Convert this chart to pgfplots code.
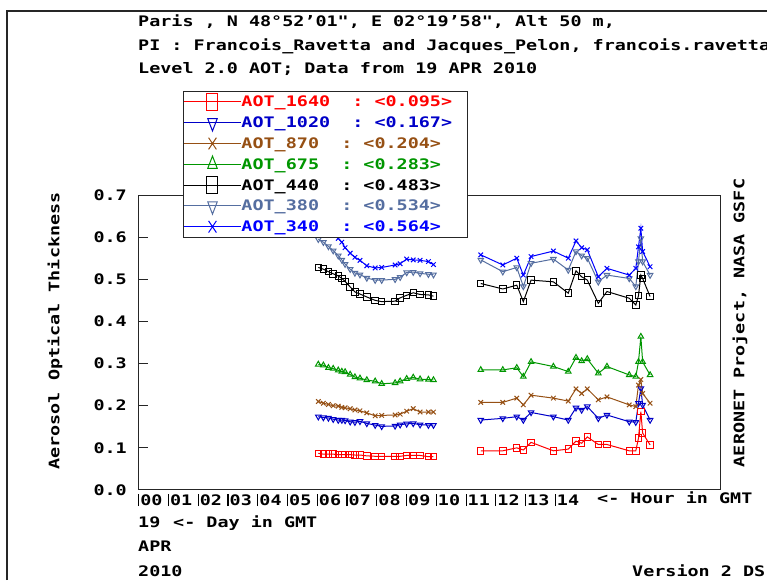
\documentclass[border=0pt]{standalone}
\usepackage{fontspec}
\usepackage{pgfplots}
\usepackage{pgfplotstable}
\pgfplotsset{compat=1.18}
\newfontfamily\pixfont{DejaVu Sans Mono Bold}[FakeStretch=1.27]
\newcommand\pix{\pixfont\fontsize{14.5}{17}\selectfont}
\newcommand\xl[1]{\rule[-1pt]{1.2pt}{12pt}\hspace{1pt}#1}
\definecolor{c1640}{RGB}{255,0,0}
\definecolor{c1020}{RGB}{0,0,200}
\definecolor{c870}{RGB}{150,80,20}
\definecolor{c675}{RGB}{0,150,0}
\definecolor{c440}{RGB}{0,0,0}
\definecolor{c380}{RGB}{85,110,160}
\definecolor{c340}{RGB}{0,0,255}
\pgfplotstableread{
h a1640 a1020 a870 a675 a440 a380 a340
6.06 0.087 0.174 0.210 0.298 0.528 0.595 0.628
6.23 0.085 0.172 0.206 0.296 0.524 0.588 0.620
6.40 0.085 0.171 0.203 0.290 0.518 0.578 0.612
6.56 0.085 0.168 0.200 0.288 0.513 0.568 0.605
6.73 0.084 0.166 0.199 0.284 0.508 0.556 0.597
6.85 0.084 0.166 0.196 0.281 0.502 0.546 0.588
6.96 0.084 0.165 0.195 0.280 0.495 0.536 0.575
7.13 0.084 0.162 0.193 0.274 0.482 0.524 0.562
7.29 0.083 0.161 0.190 0.268 0.470 0.515 0.552
7.46 0.083 0.163 0.188 0.265 0.465 0.511 0.545
7.69 0.081 0.158 0.183 0.261 0.458 0.503 0.532
7.97 0.080 0.154 0.176 0.258 0.450 0.498 0.527
8.19 0.080 0.151 0.177 0.252 0.447 0.498 0.528
8.64 0.080 0.152 0.178 0.254 0.448 0.500 0.534
8.81 0.080 0.155 0.180 0.258 0.456 0.505 0.537
9.03 0.082 0.157 0.187 0.264 0.462 0.516 0.548
9.25 0.082 0.158 0.193 0.267 0.468 0.517 0.546
9.48 0.082 0.155 0.185 0.263 0.464 0.514 0.545
9.76 0.079 0.154 0.185 0.262 0.463 0.512 0.542
9.93 0.079 0.154 0.185 0.261 0.460 0.511 0.535
10.70 nan nan nan nan nan nan nan
11.52 0.093 0.166 0.208 0.285 0.490 0.546 0.558
12.26 0.093 0.170 0.208 0.285 0.477 0.518 0.534
12.73 0.100 0.174 0.218 0.290 0.486 0.528 0.550
12.95 0.095 0.166 0.202 0.269 0.447 0.483 0.510
13.21 0.113 0.184 0.225 0.304 0.498 0.538 0.554
13.96 0.093 0.174 0.218 0.293 0.494 0.548 0.567
14.46 0.097 0.166 0.211 0.281 0.467 0.522 0.550
14.72 0.116 0.195 0.240 0.314 0.520 0.566 0.591
14.91 0.111 0.190 0.229 0.306 0.506 0.556 0.575
15.10 0.126 0.198 0.240 0.311 0.498 0.550 0.570
15.47 0.108 0.170 0.214 0.277 0.443 0.494 0.506
15.76 0.108 0.178 0.221 0.293 0.471 0.510 0.526
16.51 0.093 0.162 0.202 0.273 0.455 0.502 0.510
16.73 0.093 0.161 0.198 0.269 0.439 0.483 0.526
16.82 0.123 0.206 0.249 0.304 0.461 0.542 0.577
16.90 0.186 0.241 0.262 0.364 0.510 0.597 0.621
16.96 0.135 0.202 0.229 0.304 0.502 0.542 0.566
17.21 0.107 0.166 0.206 0.273 0.459 0.510 0.530
}\aot
\begin{document}
\begin{tikzpicture}
\path[use as bounding box] (0pt,0pt) rectangle (767pt,580pt);
\draw[line width=2pt, black!85] (7pt,0pt) -- (7pt,569pt) -- (767pt,569pt);
\begin{axis}[
  at={(138pt,90pt)}, anchor=south west,
  width=582pt, height=295pt, scale only axis,
  xmin=0, xmax=19.56, ymin=0, ymax=0.7,
  unbounded coords=jump,
  axis line style={line width=1pt, black!85},
  xtick={0,1,2,3,4,5,6,7,8,9,10,11,12,13,14},
  xticklabels={\xl{00},\xl{01},\xl{02},\xl{03},\xl{04},\xl{05},\xl{06},\xl{07},\xl{08},\xl{09},\xl{10},\xl{11},\xl{12},\xl{13},\xl{14}},
  ytick={0,0.1,0.2,0.3,0.4,0.5,0.6,0.7},
  yticklabels={0.0,0.1,0.2,0.3,0.4,0.5,0.6,0.7},
  xtick pos=left, ytick pos=left,
  tick align=inside, major tick length=10pt,
  x tick style={draw=none},
  y tick style={line width=1pt, black!85},
  tick label style={font=\pix},
  xticklabel style={anchor=north west, inner sep=0pt, yshift=-4pt},
  yticklabel style={anchor=east, inner sep=0pt, xshift=-11pt},
  legend cell align=left,
  legend style={at={(0.0773,1.3525)}, anchor=north west,
    draw=black!85, line width=1pt, fill=white,
    inner sep=0pt, row sep=0pt, column sep=0pt,
    nodes={inner xsep=0pt, inner ysep=4.4pt, text height=11pt, text depth=1pt, font=\pix},
    cells={anchor=west}},
  legend image code/.code={
    \draw[#1] (0pt,0pt) -- (57pt,0pt);
    \draw[#1, mark size=5.5pt, every mark/.append style={yscale=1.5}] plot coordinates {(28.5pt,0pt)};
  },
  every axis plot/.append style={line width=1pt, mark size=3.2pt},
]
\addplot[c1640, mark=square] table[x=h, y=a1640] {\aot};
\addlegendentry{\makebox[226pt][l]{\textcolor{c1640}{AOT\_1640~~:~<0.095>}}}
\addplot[c1020, mark=triangle, mark options={rotate=180}] table[x=h, y=a1020] {\aot};
\addlegendentry{\makebox[226pt][l]{\textcolor{c1020}{AOT\_1020~~:~<0.167>}}}
\addplot[c870, mark=x] table[x=h, y=a870] {\aot};
\addlegendentry{\makebox[226pt][l]{\textcolor{c870}{AOT\_870~~:~<0.204>}}}
\addplot[c675, mark=triangle] table[x=h, y=a675] {\aot};
\addlegendentry{\makebox[226pt][l]{\textcolor{c675}{AOT\_675~~:~<0.283>}}}
\addplot[c440, mark=square] table[x=h, y=a440] {\aot};
\addlegendentry{\makebox[226pt][l]{\textcolor{c440}{AOT\_440~~:~<0.483>}}}
\addplot[c380, mark=triangle, mark options={rotate=180}] table[x=h, y=a380] {\aot};
\addlegendentry{\makebox[226pt][l]{\textcolor{c380}{AOT\_380~~:~<0.534>}}}
\addplot[c340, mark=x] table[x=h, y=a340] {\aot};
\addlegendentry{\makebox[226pt][l]{\textcolor{c340}{AOT\_340~~:~<0.564>}}}
\end{axis}
\node[anchor=base west, inner sep=0pt, font=\pix] at (138pt,553pt) {Paris , N 48°52’01", E 02°19’58", Alt 50 m,};
\node[anchor=base west, inner sep=0pt, font=\pix] at (138pt,529pt) {PI : Francois\_Ravetta and Jacques\_Pelon, francois.ravetta};
\node[anchor=base west, inner sep=0pt, font=\pix] at (138pt,506pt) {Level 2.0 AOT; Data from 19 APR 2010};
\node[anchor=base west, inner sep=0pt, font=\pix] at (597pt,76pt) {<- Hour in GMT};
\node[anchor=base west, inner sep=0pt, font=\pix] at (138pt,52pt) {19};
\node[anchor=base west, inner sep=0pt, font=\pix] at (173pt,52pt) {<- Day in GMT};
\node[anchor=base west, inner sep=0pt, font=\pix] at (138pt,28pt) {APR};
\node[anchor=base west, inner sep=0pt, font=\pix] at (138pt,4pt) {2010};
\node[anchor=base west, inner sep=0pt, font=\pix] at (632pt,4pt) {Version 2 DS};
\node[rotate=90, inner sep=0pt, font=\pix] at (55pt,249pt) {Aerosol Optical Thickness};
\node[rotate=90, inner sep=0pt, font=\pix] at (740pt,257pt) {AERONET Project, NASA GSFC};
\end{tikzpicture}
\end{document}
